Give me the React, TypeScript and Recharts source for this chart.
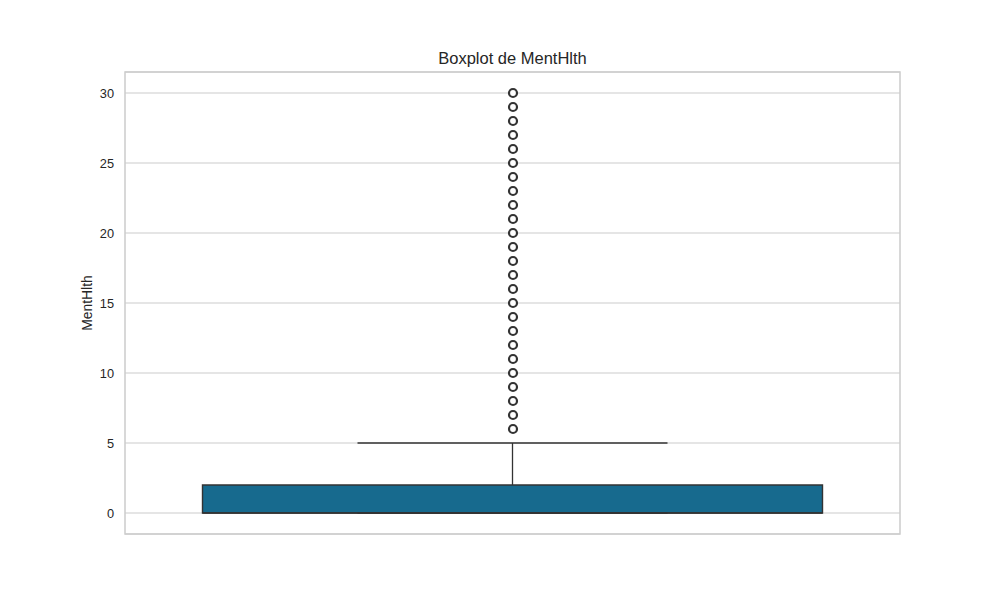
import React from 'react';
import {
  ComposedChart,
  XAxis,
  YAxis,
  CartesianGrid,
  Scatter,
  ReferenceArea,
  ReferenceLine,
} from 'recharts';

// Box statistics for MentHlth
const q1 = 0;
const median = 0;
const q3 = 2;
const whiskerLow = 0;
const whiskerHigh = 5;

// Outlier values (all drawn at the single category position)
const outlierValues = [6, 7, 8, 9, 10, 11, 12, 13, 14, 15, 16, 17, 18, 19, 20, 21, 22, 23, 24, 25, 26, 27, 28, 29, 30];

const yTicks = [0, 5, 10, 15, 20, 25, 30];

const outliers = outlierValues.map((v) => ({ x: 0, y: v }));

const FONT = '"Liberation Sans", Arial, sans-serif';
const BOX_COLOR = '#176a8e';
const LINE = '#333333';
const GRID = '#cccccc';

const OutlierShape = (props: any) => {
  const { cx, cy } = props;
  if (cx == null || cy == null) return null;
  return <circle cx={cx + 0.5} cy={cy} r={4} fill="#ffffff" stroke={LINE} strokeWidth={2.2} />;
};

export default function App() {
  return (
    <div style={{ position: 'absolute', left: 0, top: 0, width: 1000, height: 600, background: '#fff', fontFamily: FONT }}>
      <div
        style={{
          position: 'absolute',
          left: 125,
          width: 775,
          top: 48,
          textAlign: 'center',
          fontSize: 16.5,
          color: '#262626',
          lineHeight: '20px',
        }}
      >
        Boxplot de MentHlth
      </div>
      <div
        style={{
          position: 'absolute',
          left: 87,
          top: 303,
          transform: 'translate(-50%, -50%) rotate(-90deg)',
          fontSize: 13.9,
          color: '#262626',
          whiteSpace: 'nowrap',
        }}
      >
        MentHlth
      </div>
      <ComposedChart
        width={1000}
        height={600}
        data={outliers}
        margin={{ top: 72, right: 100, bottom: 66, left: 65 }}
        style={{ position: 'absolute', left: 0, top: 0 }}
      >
        <CartesianGrid vertical={false} stroke={GRID} strokeWidth={1.1} />
        <XAxis type="number" dataKey="x" domain={[-0.5, 0.5]} hide allowDataOverflow />
        <YAxis
          type="number"
          dataKey="y"
          domain={[-1.5, 31.5]}
          ticks={yTicks}
          allowDataOverflow
          width={60}
          axisLine={false}
          tickLine={false}
          tickMargin={5}
          tick={{ fill: '#262626', fontSize: 12.8, fontFamily: FONT }}
        />
        <ReferenceArea
          x1={-0.5}
          x2={0.5}
          y1={-1.5}
          y2={31.5}
          fill="none"
          stroke={GRID}
          strokeWidth={1.5}
          ifOverflow="visible"
        />
        <ReferenceLine
          segment={[{ x: 0, y: q3 }, { x: 0, y: whiskerHigh }]}
          stroke={LINE}
          strokeWidth={1.3}
        />
        <ReferenceLine
          segment={[{ x: -0.2, y: whiskerHigh }, { x: 0.2, y: whiskerHigh }]}
          stroke={LINE}
          strokeWidth={1.3}
        />
        <ReferenceLine
          segment={[{ x: -0.2, y: whiskerLow }, { x: 0.2, y: whiskerLow }]}
          stroke={LINE}
          strokeWidth={1.3}
        />
        <ReferenceArea
          x1={-0.4}
          x2={0.4}
          y1={q1}
          y2={q3}
          fill={BOX_COLOR}
          fillOpacity={1}
          stroke={LINE}
          strokeWidth={1.4}
        />
        <ReferenceLine
          segment={[{ x: -0.4, y: median }, { x: 0.4, y: median }]}
          stroke={LINE}
          strokeWidth={1.4}
        />
        <Scatter data={outliers} dataKey="y" shape={OutlierShape} isAnimationActive={false} />
      </ComposedChart>
    </div>
  );
}
